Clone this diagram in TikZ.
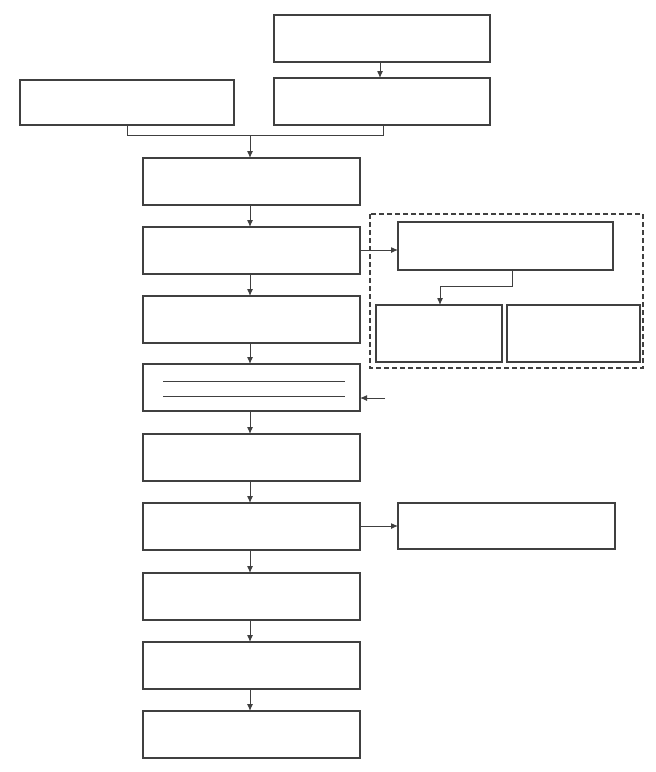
\documentclass[tikz,border=0pt]{standalone}
\usetikzlibrary{arrows.meta}
\begin{document}
\begin{tikzpicture}[x=1pt,y=-1pt,
  box/.style={draw=black!75,line width=1.1pt},
  arr/.style={draw=black!75,line width=1pt,-{Latex[length=7pt,width=6pt]}},
  ln/.style={draw=black!75,line width=1pt}]
\useasboundingbox (0,0) rectangle (656,772);
\draw[box] (274,15) rectangle (490,62) coordinate (t1);
\draw[box] (274,78) rectangle (490,125);
\draw[box] (20,80) rectangle (234,125);
\foreach \y/\n in {158/b1,227/b2,296/b3,364/b4,434/b5,503/b6,573/b7,642/b8,711/b9}
  \draw[box] (143,\y) rectangle (360,\y+47);
\draw[box] (398,503) rectangle (615,549);
\draw[box] (398,222) rectangle (613,270);
\draw[box] (376,305) rectangle (502,362);
\draw[box] (507,305) rectangle (640,362);
\draw[draw=black!75,line width=1.1pt,dash pattern=on 5pt off 3pt] (370,214) rectangle (643,368);
\draw[ln] (163,381)--(345,381);
\draw[ln] (163,396)--(345,396);
% connectors
\draw[arr] (380,62)--(380,78);
\draw[ln] (127,125)--(127,135)--(383,135)--(383,125);
\draw[arr] (250,135)--(250,158);
\foreach \a/\b in {205/227,273/296,343/364,412/434,482/503,551/573,620/642,689/711}
  \draw[arr] (250,\a)--(250,\b);
\draw[arr] (360,250)--(398,250);
\draw[ln] (512,270)--(512,286)--(440,286);
\draw[arr] (440,286)--(440,305);
\draw[arr] (385,398)--(360,398);
\draw[arr] (360,526)--(398,526);
\end{tikzpicture}
\end{document}
